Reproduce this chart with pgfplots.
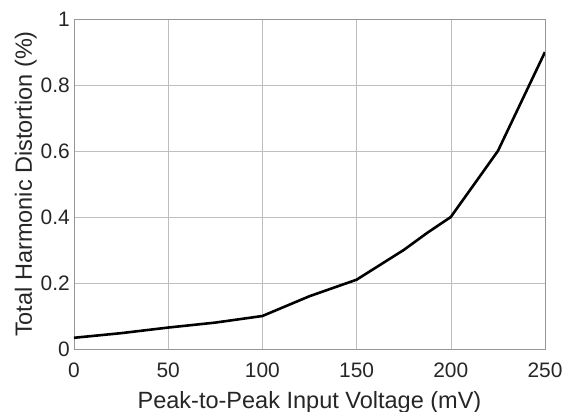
\documentclass[border=0pt]{standalone}
\usepackage{pgfplots}
\pgfplotsset{compat=1.18}
\usepackage{fontspec}
\setmainfont{Liberation Sans}
\definecolor{txt}{RGB}{38,38,38}
\definecolor{ax}{RGB}{150,150,150}
\definecolor{grd}{RGB}{190,190,190}
\begin{document}
\begin{tikzpicture}
\begin{axis}[
  name=ax,
  scale only axis,
  width=471bp, height=330bp,
  xmin=0, xmax=250, ymin=0, ymax=1,
  xtick={0,50,100,150,200,250},
  ytick={0,0.2,0.4,0.6,0.8,1},
  yticklabels={0,0.2,0.4,0.6,0.8,1},
  grid=major,
  major grid style={grd, line width=0.6pt},
  axis line style={ax, line width=0.7pt},
  tick style={draw=none},
  /pgf/number format/assume math mode=true,
  ticklabel style={font=\fontsize{21}{25}\selectfont, text=txt, inner sep=0pt},
  xticklabel style={anchor=base, yshift=-28bp},
  yticklabel style={anchor=east, xshift=-4bp},
  label style={font=\fontsize{23.6}{27}\selectfont, text=txt, inner sep=0pt},
  xlabel={Peak-to-Peak Input Voltage (mV)},
  ylabel={Total Harmonic Distortion (\%)},
  xlabel style={at={(axis description cs:0.5,0)}, yshift=-59bp, anchor=base},
  ylabel style={at={(axis description cs:-0.0892,0.5)}, anchor=base, rotate=0},
]
\addplot[black, line width=2.6pt] coordinates {
(0,0.034) (25,0.048) (50,0.065) (75,0.080) (100,0.100) (125,0.160) (150,0.210) (175,0.300) (187.5,0.352) (200,0.400) (225,0.600) (250,0.900)
};
\end{axis}
\pgfresetboundingbox
\path[use as bounding box] ([shift={(-74bp,-63bp)}]ax.south west) rectangle ([shift={(18bp,19bp)}]ax.north east);
\end{tikzpicture}
\end{document}
